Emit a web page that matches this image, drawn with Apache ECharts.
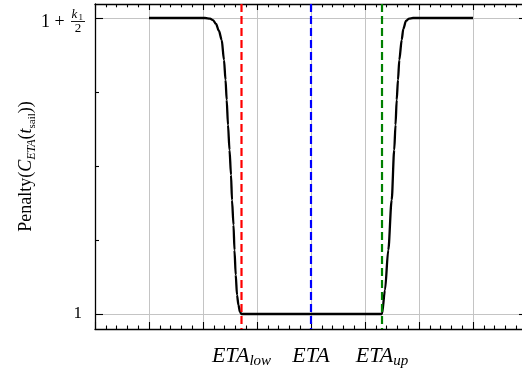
<!DOCTYPE html>
<html>
<head>
<meta charset="utf-8">
<script src="https://cdn.jsdelivr.net/npm/echarts@6/dist/echarts.min.js"></script>
<style>
html,body{margin:0;padding:0;background:#fff;overflow:hidden;}
#wrap{position:relative;width:522px;height:376px;}
#c,#d{position:absolute;left:0;top:0;width:522px;height:376px;}
#d{pointer-events:none;}
</style>
</head>
<body>
<div id="wrap"><div id="c"></div><div id="d"></div></div>
<script>
// ---- data ----
const X_MIN = 0, X_MAX = 8, X_STEP = 1;
const Y_MIN = 0.9493, Y_MAX = 2.0473;
const yLabelTicks = [1, 2];
const yPlainTicks = [1.25, 1.5, 1.75];
const yBottomLabel = ['1'];
const etaValues = [2.713, 4.0, 5.315];
const etaMain = ['ETA', 'ETA', 'ETA'];
const etaSub = ['low', '', 'up'];
const etaColors = ['#ff0000', '#0000ff', '#008000'];
const curveX = [1.0, 2.037, 2.13, 2.185, 2.241, 2.296, 2.346, 2.389, 2.417, 2.439, 2.463, 2.491, 2.519, 2.537, 2.565, 2.583, 2.606, 2.63, 2.657, 2.685, 2.713,
  5.315, 5.37, 5.431, 5.494, 5.541, 5.565, 5.587, 5.611, 5.635, 5.68, 5.709, 5.759, 5.815, 5.889, 7.0];
const curveY = [2, 2, 1.998, 1.993, 1.98, 1.956, 1.926, 1.858, 1.791, 1.723, 1.639, 1.554, 1.47, 1.385, 1.301, 1.216, 1.132, 1.064, 1.03, 1.007, 1.0,
  1.0, 1.081, 1.216, 1.385, 1.554, 1.639, 1.723, 1.791, 1.858, 1.926, 1.963, 1.99, 1.998, 2, 2];

const SERIF = 'Liberation Serif';
const GRID = {left: 95, top: 4, width: 432, height: 325, containLabel: false, outerBoundsMode: 'none'};
const axisLineStyle = {color: '#000', width: 1.3};
const tickStyle = {color: '#000', width: 1.1};
const gridStyle = {color: '#c4c4c4', width: 1};
const xBase = {type: 'value', min: X_MIN, max: X_MAX, interval: X_STEP};
const yBase = {type: 'value', min: Y_MIN, max: Y_MAX};

function etaFormatter(value) {
  let best = 0;
  etaValues.forEach((v, i) => { if (Math.abs(v - value) < Math.abs(etaValues[best] - value)) best = i; });
  return '{m|' + etaMain[best] + '}' + (etaSub[best] ? '{s|' + etaSub[best] + '}' : '');
}

// ---- main chart (canvas: axes, text, curve) ----
const chart = echarts.init(document.getElementById('c'), null, {renderer: 'canvas'});
chart.setOption({
  animation: false,
  grid: GRID,
  xAxis: [
    Object.assign({}, xBase, {
      position: 'bottom',
      axisLine: {show: true, onZero: false, lineStyle: axisLineStyle},
      axisTick: {show: true, inside: true, length: 7, lineStyle: tickStyle},
      minorTick: {show: true, splitNumber: 5, length: 3.5, lineStyle: tickStyle},
      splitLine: {show: true, lineStyle: gridStyle},
      axisLabel: {
        show: true, customValues: etaValues, formatter: etaFormatter, margin: 14,
        rich: {
          m: {fontFamily: SERIF, fontStyle: 'italic', fontSize: 22, lineHeight: 26, color: '#000'},
          s: {fontFamily: SERIF, fontStyle: 'italic', fontSize: 15, lineHeight: 16, verticalAlign: 'bottom', color: '#000'}
        }
      }
    }),
    Object.assign({}, xBase, {
      position: 'top',
      axisLine: {show: true, onZero: false, lineStyle: axisLineStyle},
      axisTick: {show: true, inside: true, length: 6, lineStyle: tickStyle},
      minorTick: {show: true, splitNumber: 5, length: 3.3, lineStyle: tickStyle},
      splitLine: {show: false},
      axisLabel: {show: false}
    })
  ],
  yAxis: [
    Object.assign({}, yBase, {
      position: 'left',
      axisLine: {show: true, onZero: false, lineStyle: axisLineStyle},
      axisTick: {show: true, inside: true, length: 8, customValues: yLabelTicks, lineStyle: tickStyle},
      splitLine: {show: true, lineStyle: gridStyle},
      axisLabel: {
        show: true, customValues: [1], formatter: () => yBottomLabel[0], margin: 13,
        fontFamily: SERIF, fontSize: 17, color: '#000', padding: [6, 0, 0, 0]
      },
      name: '{n|Penalty(}{i|C}{is|ETA}{n|(}{i|t}{s|sail}{n|))}',
      nameLocation: 'middle', nameRotate: 90, nameGap: 57,
      nameTextStyle: {
        rich: {
          n: {fontFamily: SERIF, fontSize: 18, lineHeight: 24, color: '#000'},
          i: {fontFamily: SERIF, fontStyle: 'italic', fontSize: 18, lineHeight: 24, color: '#000'},
          is: {fontFamily: SERIF, fontStyle: 'italic', fontSize: 12, lineHeight: 15, verticalAlign: 'bottom', color: '#000'},
          s: {fontFamily: SERIF, fontSize: 11, lineHeight: 15, verticalAlign: 'bottom', color: '#000'}
        }
      }
    }),
    Object.assign({}, yBase, {
      position: 'left',
      axisLine: {show: false},
      axisTick: {show: true, inside: true, length: 4, customValues: yPlainTicks, lineStyle: tickStyle},
      splitLine: {show: false},
      axisLabel: {show: false}
    }),
    Object.assign({}, yBase, {
      position: 'right',
      axisLine: {show: true, onZero: false, lineStyle: axisLineStyle},
      axisTick: {show: true, inside: true, length: 8, customValues: yLabelTicks, lineStyle: tickStyle},
      splitLine: {show: false},
      axisLabel: {show: false}
    })
  ],
  series: [{
    type: 'line',
    xAxisIndex: 0, yAxisIndex: 0,
    data: curveX.map((x, i) => [x, curveY[i]]),
    showSymbol: false, smooth: 0.3, smoothMonotone: 'x',
    lineStyle: {color: '#000', width: 2.3},
    z: 3
  }]
});

// top tick label "1 + k1/2" built from text pieces next to the y=2 tick
const py = chart.convertToPixel({yAxisIndex: 0}, yLabelTicks[1]);
chart.setOption({
  graphic: [{
    type: 'group', x: 0, y: py, silent: true,
    children: [
      {type: 'text', x: 41, y: 4, style: {text: '1 +', fontSize: 18, fontFamily: SERIF, fill: '#000', verticalAlign: 'middle', align: 'left'}},
      {type: 'text', x: 71.5, y: -3, style: {text: 'k', fontSize: 13, fontStyle: 'italic', fontFamily: SERIF, fill: '#000', verticalAlign: 'middle', align: 'left'}},
      {type: 'text', x: 78.5, y: -0.5, style: {text: '1', fontSize: 9, fontFamily: SERIF, fill: '#000', verticalAlign: 'middle', align: 'left'}},
      {type: 'line', shape: {x1: 71, y1: 3.5, x2: 85, y2: 3.5}, style: {stroke: '#000', lineWidth: 0.9}},
      {type: 'text', x: 78, y: 10.5, style: {text: '2', fontSize: 13, fontFamily: SERIF, fill: '#000', verticalAlign: 'middle', align: 'center'}}
    ]
  }]
});

// ---- overlay chart (svg: dashed ETA marker lines, same scales) ----
const overlay = echarts.init(document.getElementById('d'), null, {renderer: 'svg'});
overlay.setOption({
  animation: false,
  backgroundColor: 'transparent',
  grid: GRID,
  xAxis: Object.assign({}, xBase, {show: false}),
  yAxis: Object.assign({}, yBase, {show: false}),
  series: etaValues.map((v, i) => ({
    type: 'line',
    data: [[v, Y_MAX], [v, Y_MIN]],
    showSymbol: false, silent: true,
    lineStyle: {color: etaColors[i], type: [8, 4], width: 2.2}
  }))
});
</script>
</body>
</html>
